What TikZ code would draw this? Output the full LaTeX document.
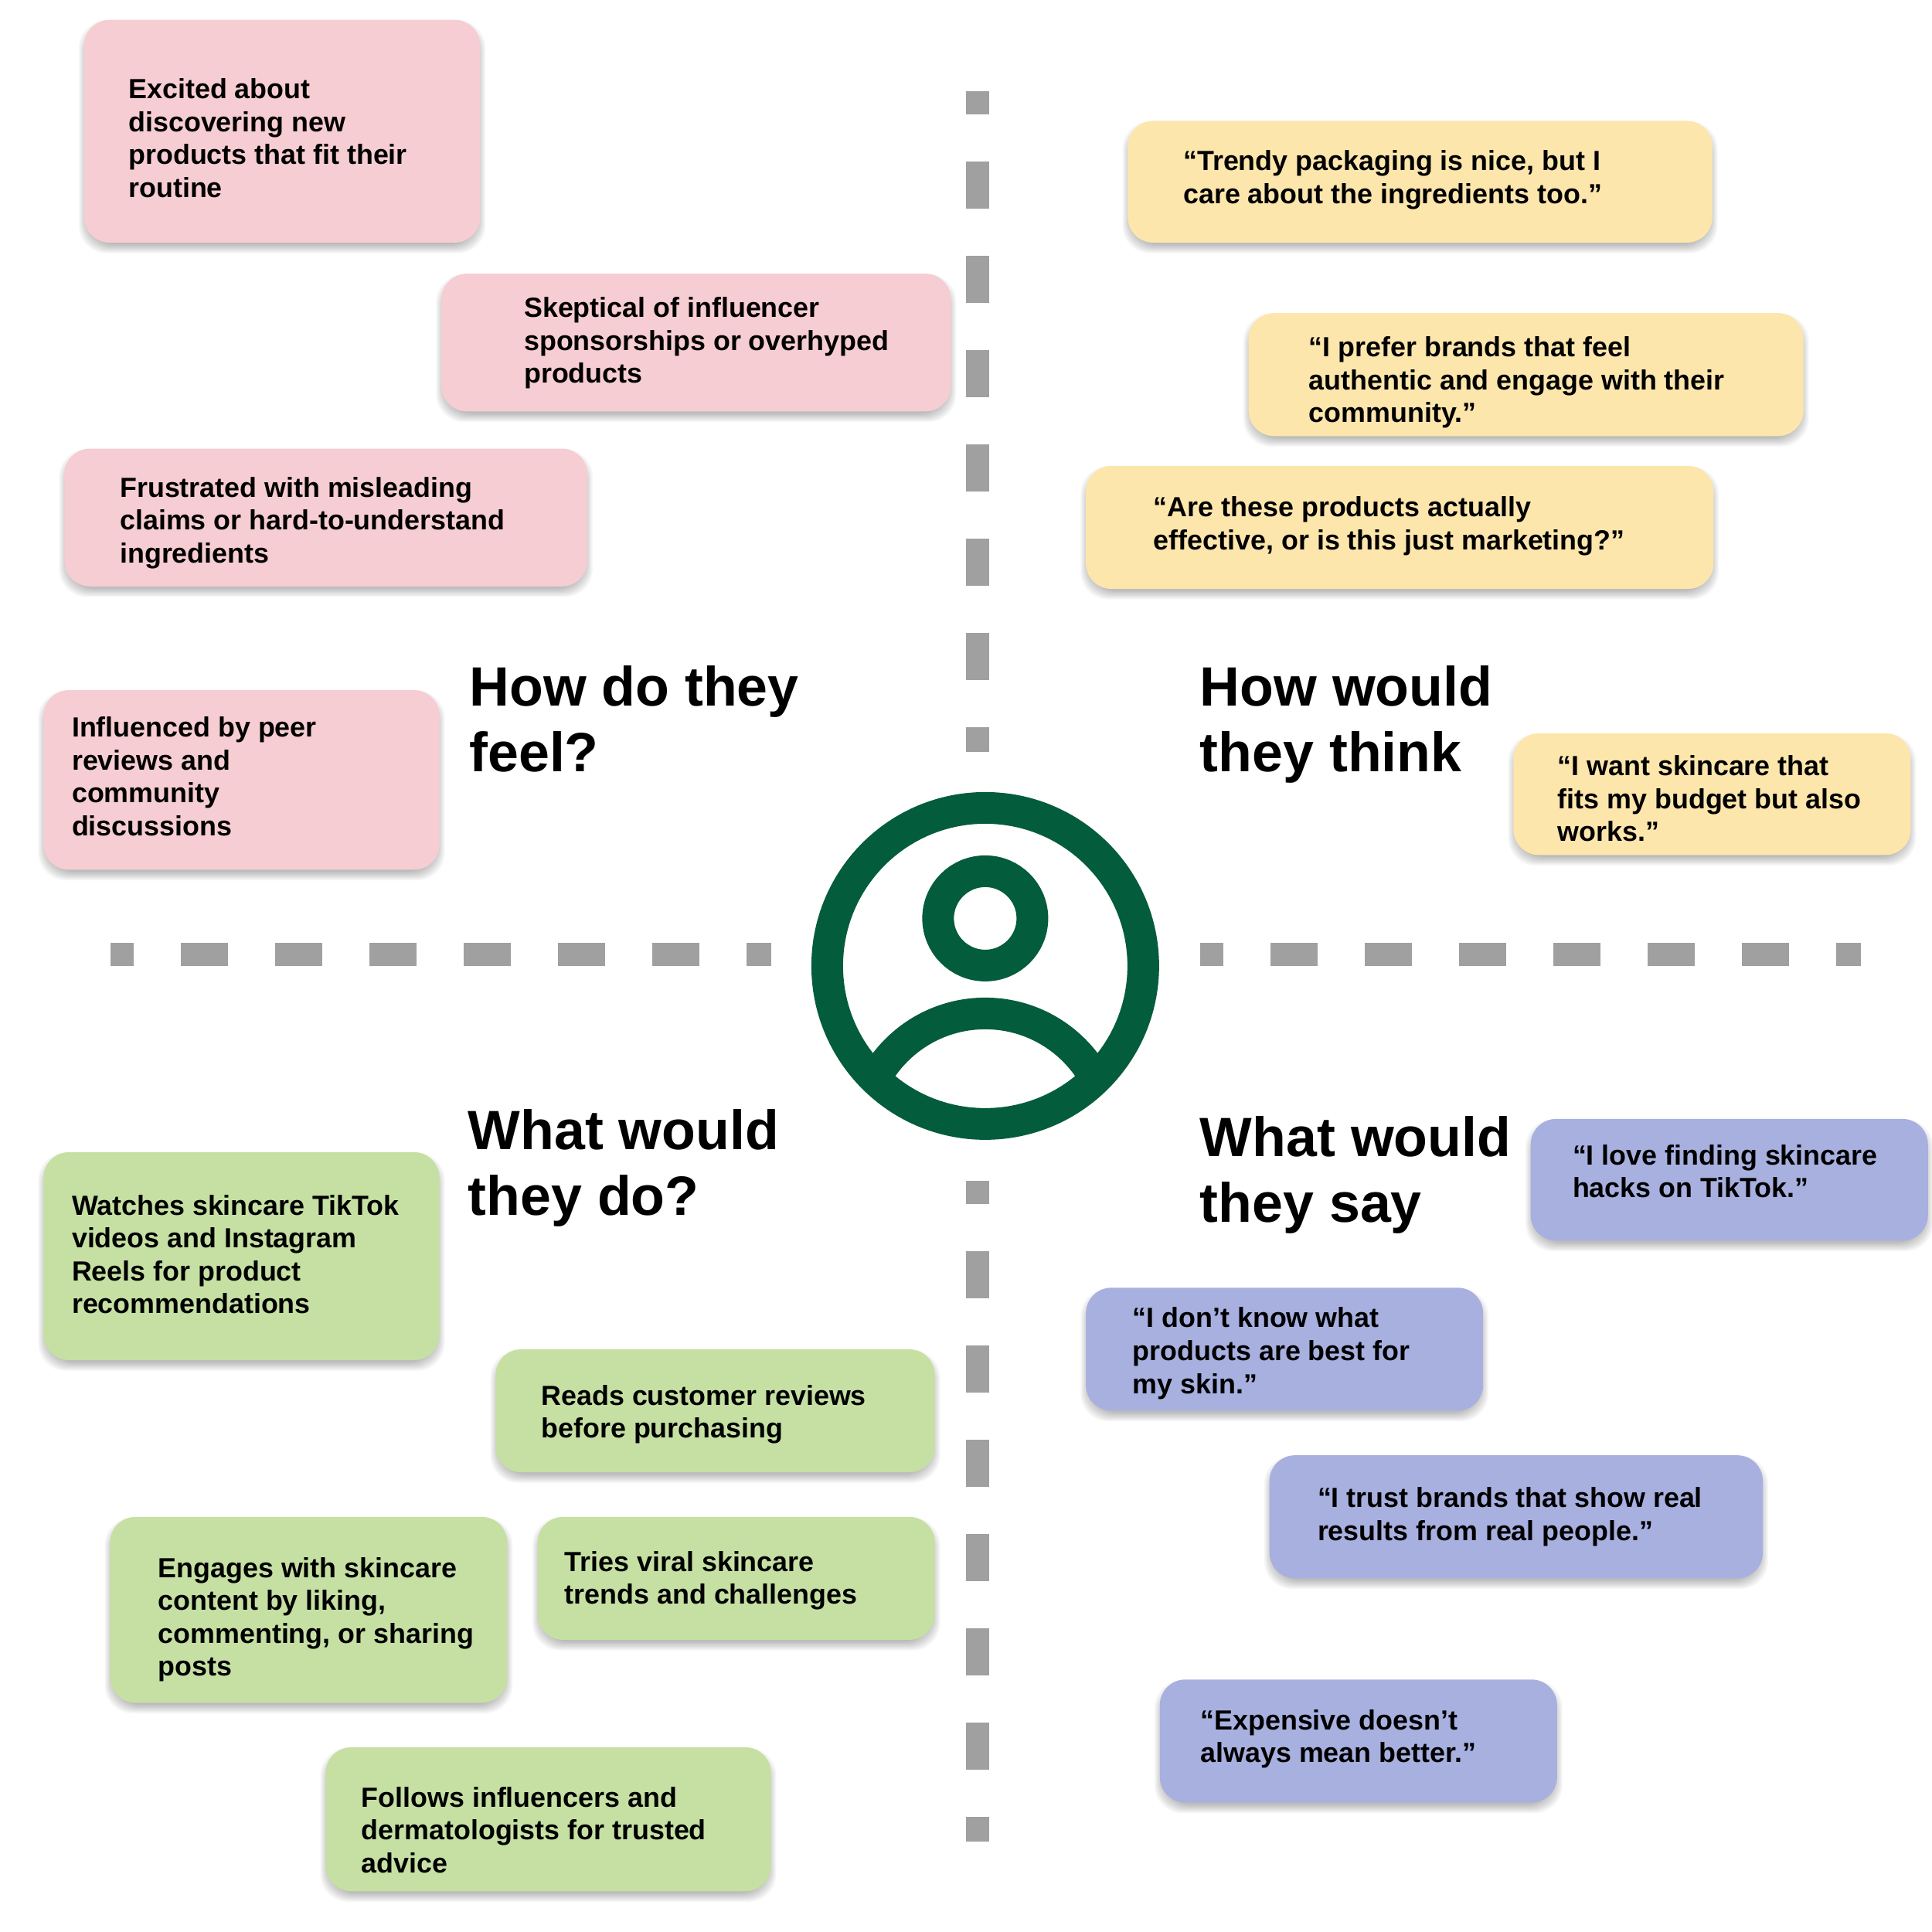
\documentclass[tikz,border=0pt]{standalone}
\usepackage{fontspec}
\setmainfont{Liberation Sans}
\definecolor{cpink}{HTML}{F6CDD2}
\definecolor{cyellow}{HTML}{FDE6AC}
\definecolor{cgreen}{HTML}{C6E0A3}
\definecolor{cpurple}{HTML}{A8B0E0}
\definecolor{cicon}{HTML}{035C3C}
\definecolor{cdash}{HTML}{A0A0A0}
\tikzset{
  cardbox/.style={rectangle,rounded corners=0.33cm,inner sep=0pt,outer sep=0pt},
  cardtext/.style={anchor=west,align=left,inner sep=0pt,outer sep=0pt,text=black,xshift=0.006cm,yshift=-0.064cm,
    font=\fontsize{10.2}{12.1}\selectfont\bfseries,
    execute at begin node=\strut,execute at end node=\strut},
  headtext/.style={anchor=west,align=left,inner sep=0pt,outer sep=0pt,text=black,yshift=-0.12cm,
    font=\fontsize{20.4}{24.2}\selectfont\bfseries,
    execute at begin node=\strut,execute at end node=\strut},
  shadowlayer/.style={fill=black,opacity=0.035,rounded corners=0.36cm},
  dashline/.style={cdash,line width=0.30cm,dash pattern=on 0.61cm off 0.61cm,dash phase=0.305cm},
  iconring/.style={circle,draw=cicon,line width=0.41cm,inner sep=0pt,fill=none},
}
% name, x1,y1,x2,y2, colour, text x, text y, text
\newcommand\card[9]{%
  \foreach \e in {-3,-2,-1,0,1,2,3,4}{%
    \fill[shadowlayer] (#2-\e,#3-\e+4.5) rectangle (#4+\e,#5+\e+4.5);}
  \pgfmathsetmacro\cw{(#4-#2-0.6)*0.015944}
  \pgfmathsetmacro\ch{(#5-#3-0.2)*0.015944}
  \node[cardbox,fill=#6,minimum width=\cw cm,minimum height=\ch cm] (#1) at ({(#2+#4)/2},{(#3+#5)/2}) {};
  \node[cardtext] (#1t) at (#7,#8) {#9};
}
\begin{document}
\begin{tikzpicture}[x=0.015944cm,y=-0.015944cm]
\useasboundingbox (0,0) rectangle (1568,1568);
\fill[white] (0,0) rectangle (1568,1568);
% dashed axes
\coordinate (vta) at (12.65cm,-1.18cm);
\coordinate (vtb) at (12.65cm,-9.73cm);
\coordinate (vba) at (12.65cm,-15.28cm);
\coordinate (vbb) at (12.65cm,-23.83cm);
\coordinate (hla) at (1.43cm,-12.35cm);
\coordinate (hlb) at (9.98cm,-12.35cm);
\coordinate (hra) at (15.53cm,-12.35cm);
\coordinate (hrb) at (24.08cm,-12.35cm);
\draw[dashline] (vta) -- (vtb);
\draw[dashline] (vba) -- (vbb);
\draw[dashline] (hla) -- (hlb);
\draw[dashline] (hra) -- (hrb);
% pink
\card{p1}{68}{16}{390}{197}{cpink}{104}{112}{Excited about\\discovering new\\products that fit their\\routine}
\card{p2}{358}{222}{772}{334}{cpink}{425}{276}{Skeptical of influencer\\sponsorships or overhyped\\products}
\card{p3}{52}{364}{477}{476}{cpink}{97}{422}{Frustrated with misleading\\claims or hard-to-understand\\ingredients}
\card{p4}{35}{560}{357}{706}{cpink}{58}{630}{Influenced by peer\\reviews and\\community\\discussions}
% yellow
\card{y1}{915}{98}{1390}{197}{cyellow}{960}{143.5}{“Trendy packaging is nice, but I\\care about the ingredients too.”}
\card{y2}{1013}{254}{1464}{354}{cyellow}{1062}{308}{“I prefer brands that feel\\authentic and engage with their\\community.”}
\card{y3}{881}{378}{1391}{478}{cyellow}{936}{424.5}{“Are these products actually\\effective, or is this just marketing?”}
\card{y4}{1228}{595}{1551}{694}{cyellow}{1264}{648}{“I want skincare that\\fits my budget but also\\works.”}
% green
\card{g1}{35}{935}{357}{1104}{cgreen}{58}{1018}{Watches skincare TikTok\\videos and Instagram\\Reels for product\\recommendations}
\card{g2}{402}{1095}{759}{1195}{cgreen}{439}{1145.5}{Reads customer reviews\\before purchasing}
\card{g3}{89}{1231}{412}{1382}{cgreen}{128}{1312}{Engages with skincare\\content by liking,\\commenting, or sharing\\posts}
\card{g4}{436}{1231}{759}{1331}{cgreen}{458}{1280.5}{Tries viral skincare\\trends and challenges}
\card{g5}{264}{1418}{626}{1535}{cgreen}{293}{1485}{Follows influencers and\\dermatologists for trusted\\advice}
% purple
\card{u1}{1242}{908}{1565}{1007}{cpurple}{1276}{950.5}{“I love finding skincare\\hacks on TikTok.”}
\card{u2}{881}{1045}{1204}{1145}{cpurple}{919}{1096}{“I don’t know what\\products are best for\\my skin.”}
\card{u3}{1030}{1181}{1431}{1281}{cpurple}{1069}{1228.5}{“I trust brands that show real\\results from real people.”}
\card{u4}{941}{1363}{1264}{1463}{cpurple}{974}{1409}{“Expensive doesn’t\\always mean better.”}
% headings
\node[headtext] (hfeel) at (381,583.5) {How do they\\feel?};
\node[headtext] (hthink) at (974,583.5) {How would\\they think};
\node[headtext] (hdo) at (380,944) {What would\\they do?};
\node[headtext] (hsay) at (974,949.5) {What would\\they say};
% icon
\begin{scope}
  \clip (12.75cm,-12.5cm) circle[radius=2.1cm];
  \draw[cicon,line width=0.41cm] (12.75cm,-14.74cm) circle[radius=1.625cm];
\end{scope}
\node[iconring,minimum size=4.09cm] (ring) at (12.75cm,-12.5cm) {};
\node[iconring,minimum size=1.22cm] (head) at (12.75cm,-11.885cm) {};
\end{tikzpicture}
\end{document}
